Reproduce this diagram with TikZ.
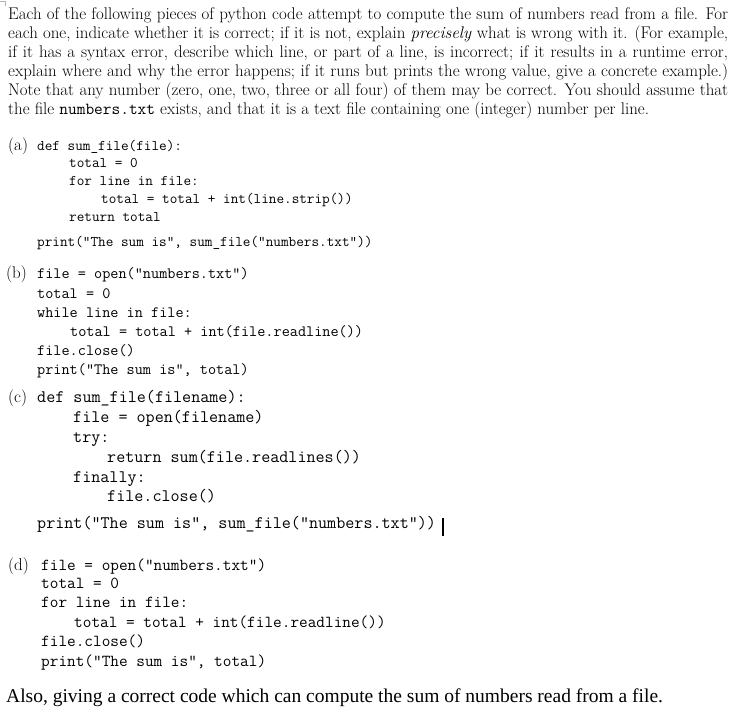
\documentclass[tikz,border=0pt]{standalone}
\usepackage{fontspec}
\newfontfamily\alsofont{Liberation Serif}
\begin{document}
\begin{tikzpicture}[x=1pt,y=-1pt,
  para/.style={anchor=base west,inner sep=0pt,font=\fontsize{16.9}{18}\selectfont},
  ca/.style={anchor=base west,inner sep=0pt,font=\fontsize{14.8}{18}\selectfont\ttfamily},
  cb/.style={anchor=base west,inner sep=0pt,font=\fontsize{15.8}{18}\selectfont\ttfamily},
  cc/.style={anchor=base west,inner sep=0pt,font=\fontsize{17.6}{18}\selectfont\ttfamily},
  cd/.style={anchor=base west,inner sep=0pt,font=\fontsize{16.8}{18}\selectfont\ttfamily},
  lab/.style={anchor=base west,inner sep=0pt,font=\fontsize{17}{18}\selectfont}]
\useasboundingbox[fill=white] (0,0) rectangle (739,723);
\draw[gray!60] (0,1) -- (5,1) -- (5,6);
\node[para] (p1) at (8,19) {\makebox[720pt][s]{Each of the following pieces of python code attempt to compute the sum of numbers read from a file. For}};
\node[para] (p2) at (8,38) {\makebox[720pt][s]{each one, indicate whether it is correct; if it is not, explain \emph{precisely} what is wrong with it. (For example,}};
\node[para] (p3) at (8,57) {\makebox[720pt][s]{if it has a syntax error, describe which line, or part of a line, is incorrect; if it results in a runtime error,}};
\node[para] (p4) at (8,76) {\makebox[720pt][s]{explain where and why the error happens; if it runs but prints the wrong value, give a concrete example.)}};
\node[para] (p5) at (8,95) {\makebox[720pt][s]{Note that any number (zero, one, two, three or all four) of them may be correct. You should assume that}};
\node[para] (p6) at (8,114) {the file \texttt{numbers.txt} exists, and that it is a text file containing one (integer) number per line.};
% (a)
\node[lab] (la) at (8,150) {(a)};
\node[ca] (a1) at (37,150) {def sum\_file(file):};
\node[ca] (a2) at (69,167) {total = 0};
\node[ca] (a3) at (69,185) {for line in file:};
\node[ca] (a4) at (101,203) {total = total + int(line.strip())};
\node[ca] (a5) at (69,221) {return total};
\node[ca] (a6) at (37,246) {print("The sum is", sum\_file("numbers.txt"))};
% (b)
\node[lab] (lb) at (6,278) {(b)};
\node[cb] (b1) at (37,278) {file = open("numbers.txt")};
\node[cb] (b2) at (37,298) {total = 0};
\node[cb] (b3) at (37,317) {while line in file:};
\node[cb] (b4) at (70,336) {total = total + int(file.readline())};
\node[cb] (b5) at (37,355) {file.close()};
\node[cb] (b6) at (37,374) {print("The sum is", total)};
% (c)
\node[lab] (lc) at (8,402) {(c)};
\node[cc] (c1) at (37,402) {def sum\_file(filename):};
\node[cc] (c2) at (73,422) {file = open(filename)};
\node[cc] (c3) at (73,442) {try:};
\node[cc] (c4) at (107,462) {return sum(file.readlines())};
\node[cc] (c5) at (73,482) {finally:};
\node[cc] (c6) at (107,501) {file.close()};
\node[cc] (c7) at (37,528) {print("The sum is", sum\_file("numbers.txt"))};
\draw[line width=1.2pt] (443,518) -- (443,536);
% (d)
\node[lab] (ld) at (8,570) {(d)};
\node[cd] (d1) at (41,570) {file = open("numbers.txt")};
\node[cd] (d2) at (41,588) {total = 0};
\node[cd] (d3) at (41,607) {for line in file:};
\node[cd] (d4) at (74,627) {total = total + int(file.readline())};
\node[cd] (d5) at (41,646) {file.close()};
\node[cd] (d6) at (41,666) {print("The sum is", total)};
\node[anchor=base west,inner sep=0pt,font=\alsofont\fontsize{19.5}{20}\selectfont] (also) at (6,702) {Also, giving a correct code which can compute the sum of numbers read from a file.};
\end{tikzpicture}
\end{document}
